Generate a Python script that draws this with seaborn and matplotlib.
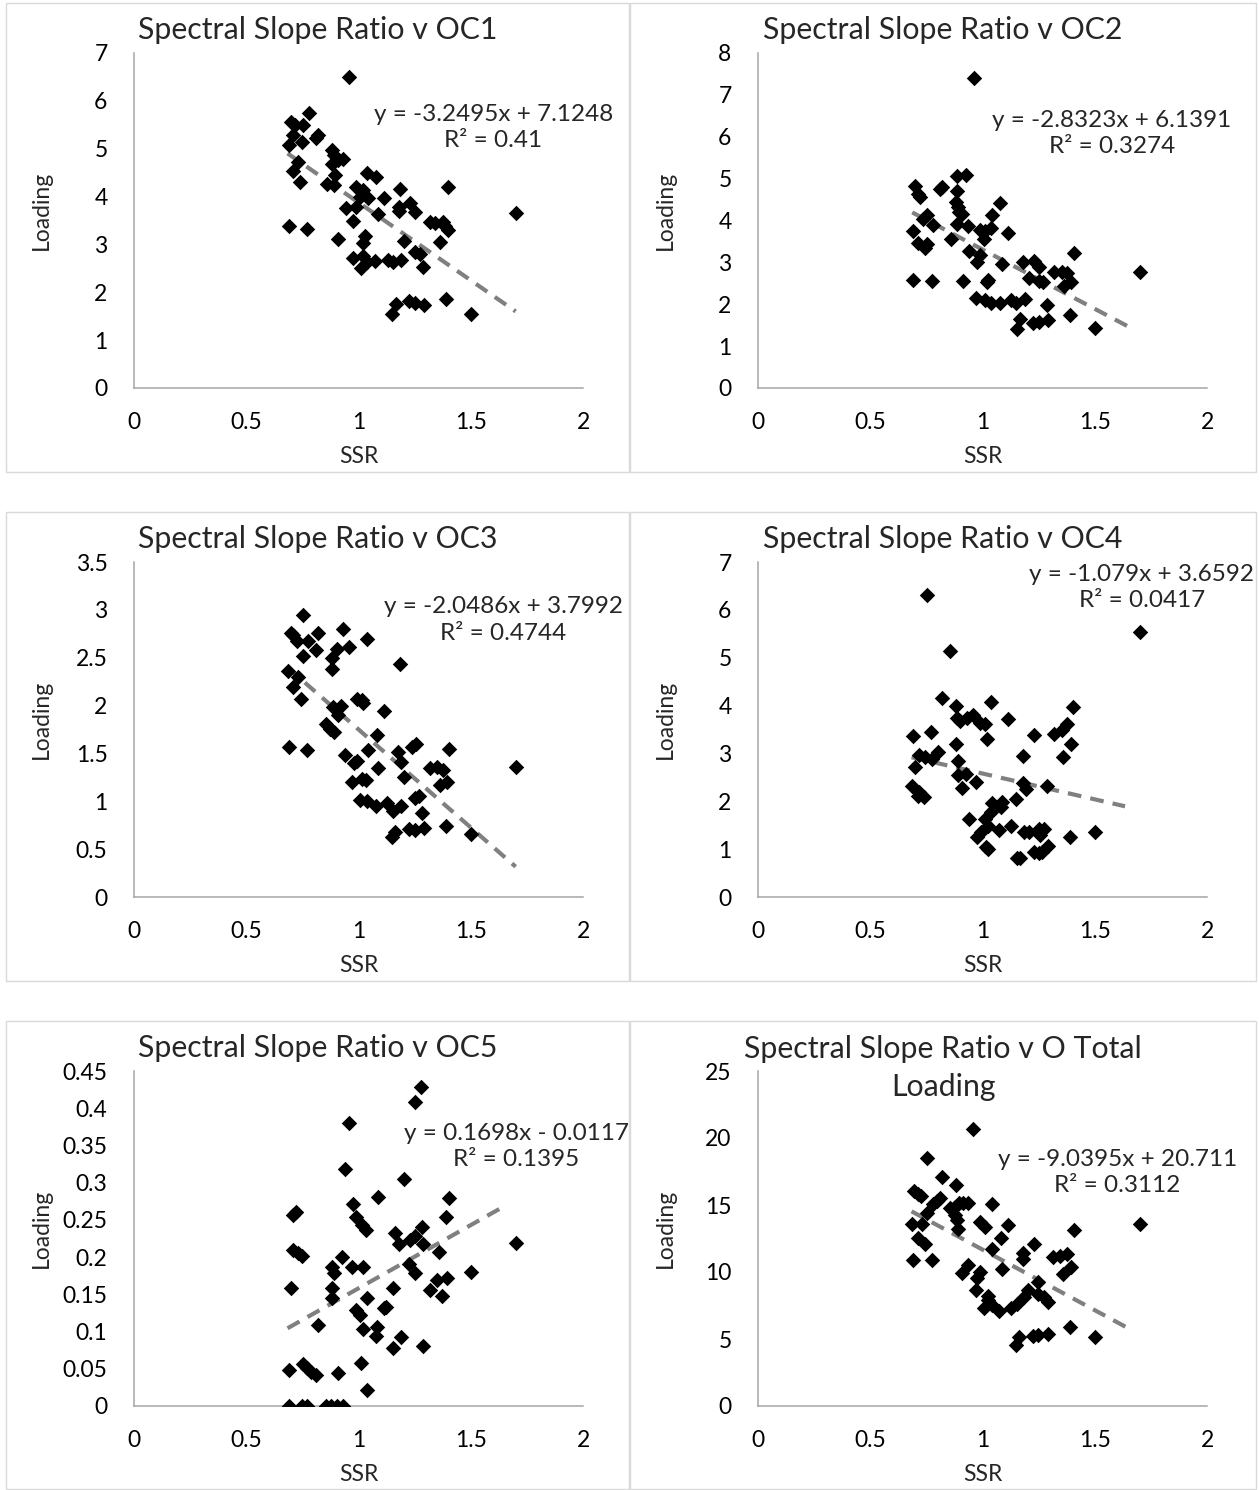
import seaborn as sns
import matplotlib.pyplot as plt
from matplotlib.patches import Rectangle

sns.set_theme(style="white")
plt.rcParams['font.family'] = ['Lato', 'DejaVu Sans']

# ---- data ----
ssr_oc1 = [0.959, 0.78, 0.70, 0.717, 0.754, 0.71, 0.82, 0.81, 0.69, 0.75, 0.88, 0.89, 0.93, 0.91,
           0.88, 0.73, 0.71, 0.895, 1.04, 1.08, 0.74, 0.86, 0.89, 0.99, 1.02, 1.185, 1.40, 1.007,
           1.044, 1.115, 1.23, 1.18, 0.944, 0.99, 1.18, 1.25, 1.088, 1.70, 0.977, 1.318, 1.34,
           1.375, 1.385, 1.40, 0.69, 0.77, 0.91, 1.03, 1.018, 1.204, 1.363, 1.25, 1.274, 0.974,
           1.02, 1.04, 1.074, 1.13, 1.155, 1.19, 1.01, 1.286, 1.166, 1.15, 1.226, 1.25, 1.29,
           1.39, 1.50]
load_oc1 = [6.50, 5.74, 5.56, 5.49, 5.49, 5.29, 5.29, 5.22, 5.08, 5.13, 4.97, 4.87, 4.78, 4.76,
            4.69, 4.73, 4.54, 4.45, 4.50, 4.41, 4.31, 4.26, 4.24, 4.19, 4.14, 4.16, 4.19, 4.00,
            3.96, 3.98, 3.87, 3.79, 3.77, 3.79, 3.70, 3.67, 3.64, 3.66, 3.49, 3.46, 3.44, 3.46,
            3.38, 3.30, 3.39, 3.32, 3.11, 3.18, 3.04, 3.08, 3.06, 2.85, 2.81, 2.72, 2.76, 2.64,
            2.65, 2.67, 2.63, 2.67, 2.50, 2.53, 1.75, 1.55, 1.82, 1.78, 1.73, 1.86, 1.55]

ssr_oc2 = [0.961, 0.885, 0.926, 0.70, 0.714, 0.722, 0.81, 0.82, 0.885, 0.882, 0.892, 0.895, 0.907,
           1.08, 1.044, 0.754, 0.736, 0.778, 0.885, 0.934, 0.99, 1.01, 1.04, 1.008, 1.115, 0.69,
           0.858, 0.714, 0.751, 0.744, 0.941, 0.99, 0.974, 1.088, 1.407, 1.18, 1.23, 1.25, 1.207,
           1.25, 1.27, 1.32, 1.353, 1.375, 1.395, 1.364, 1.70, 0.692, 0.774, 0.912, 1.026, 1.02,
           0.97, 1.01, 1.04, 1.078, 1.127, 1.15, 1.19, 1.287, 1.167, 1.152, 1.226, 1.25, 1.29,
           1.39, 1.50]
load_oc2 = [7.41, 5.07, 5.09, 4.82, 4.63, 4.55, 4.75, 4.79, 4.71, 4.43, 4.33, 4.21, 4.16, 4.41,
            4.12, 4.13, 4.03, 3.89, 3.91, 3.88, 3.77, 3.75, 3.81, 3.55, 3.69, 3.76, 3.55, 3.47,
            3.43, 3.34, 3.27, 3.18, 3.02, 2.95, 3.22, 3.02, 3.03, 2.88, 2.62, 2.56, 2.54, 2.76,
            2.78, 2.74, 2.54, 2.44, 2.76, 2.58, 2.56, 2.56, 2.58, 2.52, 2.14, 2.09, 2.02, 2.02,
            2.09, 2.04, 2.13, 1.98, 1.65, 1.41, 1.56, 1.58, 1.62, 1.74, 1.43]

ssr_oc3 = [0.751, 0.70, 0.71, 0.725, 0.777, 0.82, 0.932, 1.04, 0.81, 0.903, 0.959, 0.754, 0.883,
           0.88, 1.185, 0.684, 0.732, 0.71, 0.744, 0.992, 1.017, 1.021, 0.888, 0.92, 0.91, 1.114,
           0.855, 0.873, 0.89, 1.081, 0.692, 0.769, 1.044, 1.237, 1.256, 1.405, 1.177, 0.94, 0.98,
           0.992, 1.088, 1.188, 1.318, 1.348, 1.378, 1.70, 1.204, 0.97, 1.014, 1.033, 1.363, 1.393,
           1.007, 1.036, 1.076, 1.125, 1.152, 1.188, 1.25, 1.27, 1.284, 1.163, 1.15, 1.226, 1.25,
           1.29, 1.39, 1.50]
load_oc3 = [2.95, 2.76, 2.74, 2.67, 2.67, 2.755, 2.80, 2.70, 2.58, 2.59, 2.61, 2.52, 2.50, 2.38,
            2.43, 2.365, 2.30, 2.19, 2.07, 2.07, 2.06, 2.03, 1.99, 2.00, 1.90, 1.94, 1.81, 1.76,
            1.72, 1.69, 1.57, 1.54, 1.54, 1.57, 1.60, 1.55, 1.51, 1.48, 1.40, 1.42, 1.35, 1.41,
            1.35, 1.355, 1.33, 1.36, 1.25, 1.20, 1.23, 1.22, 1.17, 1.20, 1.01, 1.00, 0.95, 0.98,
            0.90, 0.95, 1.03, 1.055, 0.88, 0.68, 0.63, 0.71, 0.70, 0.72, 0.745, 0.655]

ssr_oc4 = [0.751, 0.855, 1.70, 0.821, 0.88, 1.038, 1.405, 0.885, 0.90, 0.929, 0.959, 0.989, 1.011,
           1.115, 1.375, 1.356, 1.32, 1.231, 1.021, 0.692, 0.77, 0.882, 1.394, 1.36, 1.179, 0.719,
           0.744, 0.774, 0.803, 0.70, 0.892, 0.889, 0.927, 0.971, 0.91, 1.179, 1.192, 1.286, 0.687,
           0.719, 0.714, 0.739, 1.044, 1.088, 1.083, 1.04, 1.149, 0.941, 1.011, 1.026, 0.993, 0.974,
           1.075, 1.127, 1.186, 1.207, 1.252, 1.275, 1.256, 1.39, 1.501, 1.016, 1.026, 1.152, 1.167,
           1.231, 1.252, 1.29, 1.266]
load_oc4 = [6.31, 5.14, 5.53, 4.16, 3.99, 4.07, 3.98, 3.75, 3.68, 3.73, 3.80, 3.63, 3.61, 3.71,
            3.61, 3.49, 3.41, 3.38, 3.30, 3.37, 3.45, 3.20, 3.20, 2.93, 2.95, 2.97, 2.92, 2.88,
            3.02, 2.71, 2.84, 2.55, 2.57, 2.40, 2.27, 2.39, 2.26, 2.31, 2.31, 2.20, 2.11, 2.10,
            1.96, 1.98, 1.89, 1.78, 2.04, 1.64, 1.62, 1.48, 1.36, 1.26, 1.40, 1.48, 1.36, 1.36,
            1.42, 1.43, 1.30, 1.26, 1.35, 1.05, 1.00, 0.81, 0.81, 0.93, 0.91, 1.07, 0.95]

ssr_oc5 = [1.278, 1.252, 0.959, 0.94, 1.204, 1.085, 1.403, 0.977, 0.72, 0.71, 0.989, 1.388, 1.017,
           1.033, 1.281, 1.163, 1.182, 1.23, 1.252, 1.289, 1.70, 0.71, 0.732, 0.747, 1.36, 0.925,
           0.88, 0.891, 0.97, 1.022, 1.226, 1.252, 1.50, 1.348, 1.393, 1.318, 1.373, 0.70, 0.883,
           0.88, 1.152, 1.039, 1.122, 1.113, 0.987, 1.007, 0.821, 1.022, 1.081, 1.076, 1.188, 1.152,
           1.286, 0.692, 0.751, 0.769, 0.788, 0.809, 0.91, 1.011, 1.039, 0.692, 0.747, 0.769, 0.855,
           0.878, 0.903, 0.932]
load_oc5 = [0.428, 0.408, 0.380, 0.318, 0.305, 0.281, 0.279, 0.271, 0.260, 0.256, 0.254, 0.254,
            0.243, 0.236, 0.240, 0.232, 0.218, 0.223, 0.229, 0.218, 0.2185, 0.2095, 0.206, 0.2015,
            0.207, 0.2006, 0.187, 0.178, 0.187, 0.187, 0.191, 0.178, 0.180, 0.169, 0.1715, 0.156,
            0.148, 0.158, 0.158, 0.145, 0.159, 0.145, 0.1335, 0.131, 0.129, 0.122, 0.109, 0.103,
            0.1057, 0.0945, 0.093, 0.0775, 0.081, 0.049, 0.0564, 0.0506, 0.0461, 0.0416, 0.0439,
            0.0573, 0.0215, 0, 0, 0, 0, 0, 0, 0]

ssr_tot = [0.959, 0.751, 0.821, 0.88, 0.696, 0.714, 0.725, 0.796, 0.778, 0.81, 0.855, 0.878, 0.895,
           0.915, 0.937, 1.041, 0.878, 0.888, 0.754, 0.684, 0.729, 0.892, 0.989, 1.011, 1.115, 1.408,
           1.70, 0.714, 1.082, 0.744, 1.231, 1.044, 1.182, 1.182, 1.316, 1.345, 1.375, 0.692, 0.774,
           1.394, 1.36, 1.085, 0.937, 0.91, 0.989, 0.974, 1.249, 0.971, 1.204, 1.186, 1.249, 1.275,
           1.29, 1.026, 1.023, 1.008, 1.041, 1.075, 1.127, 1.152, 1.39, 1.501, 1.164, 1.149, 1.226,
           1.249, 1.29]
load_tot = [20.67, 18.48, 17.11, 16.49, 16.07, 15.82, 15.70, 15.30, 15.07, 15.55, 14.80, 14.88,
            15.12, 15.17, 15.17, 15.05, 14.25, 13.88, 14.43, 13.56, 13.58, 13.18, 13.71, 13.38,
            13.51, 13.13, 13.56, 12.56, 12.51, 12.06, 12.09, 11.72, 11.39, 10.95, 11.09, 11.22,
            11.34, 10.90, 10.90, 10.35, 9.83, 10.20, 10.52, 9.90, 10.02, 9.53, 9.28, 8.66, 8.66,
            8.16, 8.36, 8.11, 7.79, 8.21, 7.91, 7.29, 7.54, 7.11, 7.34, 7.59, 5.87, 5.17, 5.17,
            4.55, 5.25, 5.30, 5.35]

titles = ["Spectral Slope Ratio v OC1", "Spectral Slope Ratio v OC2",
          "Spectral Slope Ratio v OC3", "Spectral Slope Ratio v OC4",
          "Spectral Slope Ratio v OC5", "Spectral Slope Ratio v O Total\nLoading"]
slopes = [-3.2495, -2.8323, -2.0486, -1.079, 0.1698, -9.0395]
intercepts = [7.1248, 6.1391, 3.7992, 3.6592, -0.0117, 20.711]
eq_labels = ["y = -3.2495x + 7.1248\nR² = 0.41", "y = -2.8323x + 6.1391\nR² = 0.3274",
             "y = -2.0486x + 3.7992\nR² = 0.4744", "y = -1.079x + 3.6592\nR² = 0.0417",
             "y = 0.1698x - 0.0117\nR² = 0.1395", "y = -9.0395x + 20.711\nR² = 0.3112"]
trend_start = [0.684, 0.687, 0.684, 0.684, 0.684, 0.684]
trend_end = [1.70, 1.66, 1.70, 1.635, 1.65, 1.66]
y_max = [7, 8, 3.5, 7, 0.45, 25]
y_step = [1, 1, 0.5, 1, 0.05, 5]
x_ticks = [0, 0.5, 1, 1.5, 2]

series = [(ssr_oc1, load_oc1), (ssr_oc2, load_oc2), (ssr_oc3, load_oc3),
          (ssr_oc4, load_oc4), (ssr_oc5, load_oc5), (ssr_tot, load_tot)]

# ---- layout (pixels) ----
W, H = 1259, 1490
fig = plt.figure(figsize=(W / 100, H / 100), dpi=100)

col_box = [(6, 629), (630, 1256)]
row_box = [(3, 472), (512, 981), (1021, 1489)]
col_ax = [(134, 583), (758, 1207)]
row_ax = [(53, 388), (562, 897), (1071, 1406)]
eq_pos = [(0.80, 0.777), (0.788, 0.761), (0.822, 0.827),
          (0.855, 0.924), (0.851, 0.775), (0.80, 0.696)]

for i, (xs, ys) in enumerate(series):
    r, c = divmod(i, 2)
    bx0, bx1 = col_box[c]
    by0, by1 = row_box[r]
    fig.add_artist(Rectangle((bx0 / W, 1 - by1 / H), (bx1 - bx0) / W, (by1 - by0) / H,
                             transform=fig.transFigure, fill=False,
                             edgecolor="#d9d9d9", linewidth=1))
    ax0, ax1 = col_ax[c]
    ay0, ay1 = row_ax[r]
    ax = fig.add_axes([ax0 / W, 1 - ay1 / H, (ax1 - ax0) / W, (ay1 - ay0) / H])

    sns.scatterplot(x=xs, y=ys, ax=ax, marker="D", color="black", s=62,
                    linewidth=0, zorder=3)
    tx = [trend_start[i], trend_end[i]]
    ty = [slopes[i] * v + intercepts[i] for v in tx]
    sns.lineplot(x=tx, y=ty, ax=ax, color="#808080", linewidth=3.0,
                 linestyle=(0, (3.3, 2.2)), zorder=2)

    ax.set_xlim(0, 2)
    ax.set_ylim(0, y_max[i])
    ax.set_xticks(x_ticks)
    ax.set_xticklabels([f"{v:g}" for v in x_ticks])
    n = int(round(y_max[i] / y_step[i]))
    yt = [round(k * y_step[i], 4) for k in range(n + 1)]
    ax.set_yticks(yt)
    ax.set_yticklabels([f"{v:g}" for v in yt])
    ax.tick_params(length=0, labelsize=16.5, colors="black")
    ax.tick_params(axis="y", pad=19)
    ax.tick_params(axis="x", pad=17)
    for s in ["top", "right"]:
        ax.spines[s].set_visible(False)
    for s in ["left", "bottom"]:
        ax.spines[s].set_color("#a6a6a6")
        ax.spines[s].set_linewidth(1.1)
    ax.set_xlabel("SSR", fontsize=16.5)
    ax.set_ylabel("Loading", fontsize=16.5)
    ax.xaxis.set_label_coords(0.5, -0.172)
    ax.yaxis.set_label_coords(-0.183, 0.53)

    ax.text(eq_pos[i][0], eq_pos[i][1], eq_labels[i], transform=ax.transAxes,
            ha="center", va="center", fontsize=17.5, linespacing=1.3)

    title_y = 27 if "\n" not in titles[i] else 47
    fig.text((bx0 + bx1) / 2 / W, 1 - (by0 + title_y) / H, titles[i],
             ha="center", va="center", fontsize=21.8, linespacing=1.4)

fig.savefig("out.png", dpi=100, facecolor="white")
